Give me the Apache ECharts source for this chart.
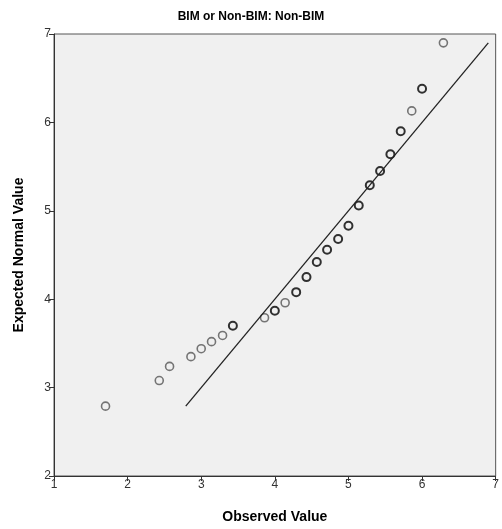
<!DOCTYPE html>
<html>
<head>
<meta charset="utf-8">
<script src="https://cdn.jsdelivr.net/npm/echarts@6/dist/echarts.min.js"></script>
<style>
html,body{margin:0;padding:0;background:#fff;}
#chart{width:502px;height:529px;}
</style>
</head>
<body>
<div id="chart"></div>
<script>
const titleText = "BIM or Non-BIM: Non-BIM";
const xAxisName = "Observed Value";
const yAxisName = "Expected Normal Value";
const observed = [1.70, 2.43, 2.57, 2.86, 3.00, 3.14, 3.29, 3.43, 3.86, 4.00, 4.14, 4.29, 4.43, 4.57, 4.71, 4.86, 5.00, 5.14, 5.29, 5.43, 5.57, 5.71, 5.86, 6.00, 6.29];
const expected = [2.79, 3.08, 3.24, 3.35, 3.44, 3.52, 3.59, 3.70, 3.79, 3.87, 3.96, 4.08, 4.25, 4.42, 4.56, 4.68, 4.83, 5.06, 5.29, 5.45, 5.64, 5.90, 6.13, 6.38, 6.90];
const tied = [0,0,0,0,0,0,0,1,0,1,0,1,1,1,1,1,1,1,1,1,1,1,0,1,0];
const xTicks = [1,2,3,4,5,6,7];
const yTicks = [2,3,4,5,6,7];

const points = observed.map((x, i) => ({
  value: [x, expected[i]],
  itemStyle: {borderColor: tied[i] ? '#000' : '#555', borderWidth: tied[i] ? 2 : 1.6}
}));
const lo = Math.min(...expected), hi = Math.max(...expected);
const refLine = [[lo, lo], [hi, hi]];

const chart = echarts.init(document.getElementById('chart'));
const font = 'Liberation Sans, Arial, sans-serif';
chart.setOption({
  animation: false,
  title: {
    text: titleText, left: 'center', top: 6,
    textStyle: {fontFamily: font, fontSize: 12, fontWeight: 'bold', color: '#000'}
  },
  grid: {
    left: 54, right: 3, top: 34, bottom: 51,
    show: true, backgroundColor: '#f0f0f0', borderColor: '#555', borderWidth: 1
  },
  xAxis: {
    type: 'value', min: xTicks[0], max: xTicks[xTicks.length-1], interval: 1,
    name: xAxisName, nameLocation: 'middle', nameGap: 34,
    nameTextStyle: {fontFamily: font, fontSize: 14, fontWeight: 'bold', color: '#000'},
    axisLine: {show: true, lineStyle: {color: '#333', width: 1}},
    axisTick: {show: true, length: 5, lineStyle: {color: '#333'}},
    axisLabel: {fontFamily: font, fontSize: 12, color: '#333', margin: 3},
    splitLine: {show: false}
  },
  yAxis: {
    type: 'value', min: yTicks[0], max: yTicks[yTicks.length-1], interval: 1,
    name: yAxisName, nameLocation: 'middle', nameGap: 28,
    nameTextStyle: {fontFamily: font, fontSize: 14, fontWeight: 'bold', color: '#000'},
    axisLine: {show: true, lineStyle: {color: '#333', width: 1}},
    axisTick: {show: true, length: 5, lineStyle: {color: '#333'}},
    axisLabel: {fontFamily: font, fontSize: 12, color: '#333', margin: 3},
    splitLine: {show: false}
  },
  series: [
    {
      type: 'line', data: refLine, symbol: 'none', silent: true,
      lineStyle: {color: '#222', width: 1.3}
    },
    {
      type: 'scatter', data: points, symbol: 'circle', symbolSize: 8,
      itemStyle: {color: 'rgba(0,0,0,0)'}
    }
  ]
});
</script>
</body>
</html>
